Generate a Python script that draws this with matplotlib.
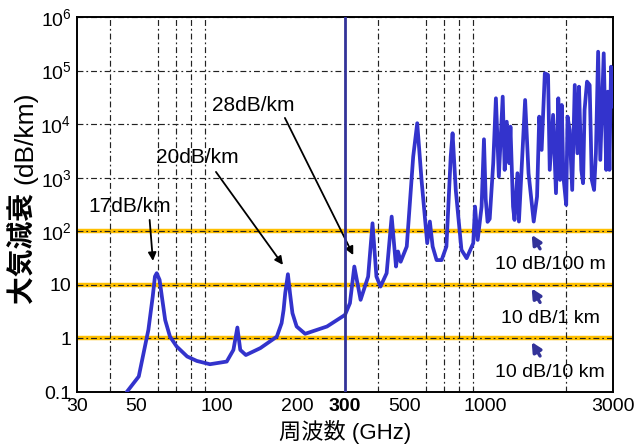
import matplotlib
matplotlib.use('Agg')
import matplotlib.pyplot as plt
from matplotlib.ticker import NullLocator, FixedLocator

plt.rcParams['font.family'] = ['Liberation Sans', 'Noto Sans CJK JP', 'DejaVu Sans']
plt.rcParams['mathtext.fontset'] = 'custom'
plt.rcParams['mathtext.rm'] = 'Liberation Sans'

# atmospheric attenuation
freq_ghz = [46, 51, 55.4, 57.5, 58.6, 59.5, 61, 62.2, 64, 66.7, 70.6, 77.3, 84, 94, 108.6,
            115, 119, 122, 128, 145, 167, 174, 177, 179.5, 183.7, 187, 191, 198, 213, 257, 300,
            313, 325, 343, 366, 380, 393, 407, 429, 448, 465, 473, 484, 510, 539, 558,
            579, 608, 622, 637, 659, 688, 717, 744, 756, 777, 816, 853, 903, 917, 938,
            970, 990, 1005, 1021, 1040, 1072, 1097, 1125, 1163, 1183, 1204, 1230, 1243,
            1271, 1287, 1320, 1337, 1410, 1452, 1518, 1562, 1592, 1625, 1670, 1717, 1742,
            1793, 1838, 1875, 1903, 1931, 1959, 2007, 2030, 2067, 2113, 2160, 2210, 2240,
            2285, 2320, 2350, 2400, 2455, 2500, 2550, 2590, 2640, 2690, 2770, 2830, 2870,
            2910, 2950, 3000]
atten_db_km = [0.1, 0.195, 1.45, 6.05, 14.3, 16.5, 12.4, 6.05, 2.2, 1.08, 0.71, 0.46, 0.38,
               0.33, 0.37, 0.61, 1.6, 0.61, 0.49, 0.66, 1.08, 1.93, 3.4, 7.0, 15.8, 7.0,
               2.96, 1.67, 1.22, 1.67, 2.75, 4.55, 22, 5.25, 14.3, 141, 14.3, 9.3, 16.5,
               188, 22, 42, 27, 52, 2477, 10400, 910, 60, 152, 52, 29, 29, 52, 2477, 6760,
               591, 45, 31.5, 60, 289, 69, 289, 5220, 400, 150, 170, 1862, 30400, 1047,
               32600, 1400, 11100, 1862, 8980, 289, 163, 1213, 152, 28250, 1213, 152, 443,
               13800, 3300, 89000, 83000, 1400, 14900, 514, 30400, 910, 22800, 1047, 311,
               13800, 7800, 591, 53800, 2860, 50000, 1400, 790, 18400, 62100, 53800, 910,
               591, 2860, 225000, 2150, 210000, 1400, 40400, 1400, 118000, 21200]

x_ticks = [30, 50, 100, 200, 300, 500, 1000, 3000]
x_grid = [40, 50, 60, 70, 80, 90, 100, 200, 400, 500, 600, 700, 800, 900, 1000, 2000]
y_ticks = [0.1, 1, 10, 1e2, 1e3, 1e4, 1e5, 1e6]
y_labels = ['0.1', '1', '10', r'$\mathregular{10^2}$', r'$\mathregular{10^3}$',
            r'$\mathregular{10^4}$', r'$\mathregular{10^5}$', r'$\mathregular{10^6}$']
ref_levels = [1, 10, 100]
ref_names = ['10 dB/10 km', '10 dB/1 km', '10 dB/100 m']

fig = plt.figure(figsize=(6.37, 4.44), dpi=100)
ax = fig.add_axes([77/637, 1-392/444, 536/637, 375/444])
ax.set_xscale('log')
ax.set_yscale('log')
ax.set_xlim(30, 3000)
ax.set_ylim(0.1, 1e6)

for lv in ref_levels:
    ax.axhline(lv, color='#ffc000', lw=3.2, zorder=1)

gs = dict(color='#222222', lw=0.85, linestyle=(0, (5, 2.5, 1.5, 2.5)))
ax.xaxis.set_major_locator(FixedLocator(x_ticks))
ax.xaxis.set_minor_locator(FixedLocator(x_grid))
ax.set_xticklabels([str(t) for t in x_ticks], fontsize=14)
ax.get_xticklabels()[4].set_fontweight('bold')
ax.xaxis.set_minor_formatter(plt.NullFormatter())
ax.grid(True, which='minor', axis='x', **gs)
ax.yaxis.set_major_locator(FixedLocator(y_ticks))
ax.yaxis.set_minor_locator(NullLocator())
ax.set_yticklabels(y_labels, fontsize=14)
ax.grid(True, which='major', axis='y', **gs)
ax.tick_params(which='both', length=0, pad=4)

ax.plot(freq_ghz, atten_db_km, color='#3333cc', lw=2.7, zorder=3,
        solid_joinstyle='round', solid_capstyle='round')
ax.axvline(300, color='#333399', lw=2.0, zorder=4)

for s in ax.spines.values():
    s.set_linewidth(1.4)

# peak labels
arr = dict(arrowstyle='-|>', color='black', lw=1.3, mutation_scale=12, shrinkA=0, shrinkB=0)
ax.text(47.1, 285, '17dB/km', fontsize=15, ha='center', va='center')
ax.annotate('', xy=(57.6, 28), xytext=(56, 163), arrowprops=arr)
ax.text(84.7, 2340, '20dB/km', fontsize=15, ha='center', va='center')
ax.annotate('', xy=(176, 23.6), xytext=(99, 1283), arrowprops=arr)
ax.text(136, 21900, '28dB/km', fontsize=15, ha='center', va='center')
ax.annotate('', xy=(322, 36), xytext=(179, 13060), arrowprops=arr)

narr = dict(arrowstyle='-|>', color='#333399', lw=2.4, mutation_scale=14, shrinkA=0, shrinkB=0)
for lv, name in zip(ref_levels, ref_names):
    ax.annotate('', xy=(1492, lv * 0.857), xytext=(1603, lv * 0.47), arrowprops=narr)
    ax.text(1746, lv * 0.236, name, fontsize=14, ha='center', va='center')

fig.text(345/637, 1-432/444, '周波数 (GHz)', fontsize=16, ha='center', va='center')
fig.text(23/637, 1-303/444, '大気減衰', fontsize=20, fontweight='bold',
         rotation=90, ha='center', va='bottom')
fig.text(25/637, 1-92/444, '(dB/km)', fontsize=19, rotation=90, ha='center', va='top')

fig.savefig('out.png', dpi=100)
